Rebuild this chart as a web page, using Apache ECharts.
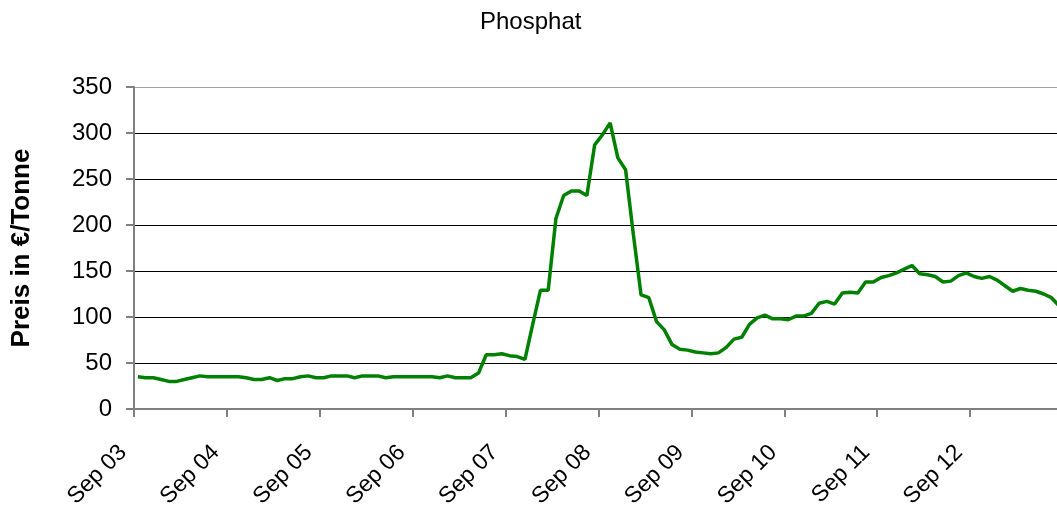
<!DOCTYPE html>
<html>
<head>
<meta charset="utf-8">
<script src="https://cdn.jsdelivr.net/npm/echarts@6/dist/echarts.min.js"></script>
<style>
html,body{margin:0;padding:0;background:#fff;}
#c{width:1057px;height:508px;}
</style>
</head>
<body>
<div id="c"></div>
<script>
// Monthly categories Sep 03 .. Aug 13
const MONTHS = ['Sep','Okt','Nov','Dez','Jan','Feb','Mrz','Apr','Mai','Jun','Jul','Aug'];
const START_YEARS = ['03','04','05','06','07','08','09','10','11','12'];
const NEXT_YEARS  = ['04','05','06','07','08','09','10','11','12','13'];
const categories = [];
START_YEARS.forEach((y, k) => {
  MONTHS.forEach((m, j) => {
    categories.push(m + ' ' + (j < 4 ? y : NEXT_YEARS[k]));
  });
});

const chartTitle = 'Phosphat';
const yAxisTitle = 'Preis in €/Tonne';
const yTicks = [0, 50, 100, 150, 200, 250, 300, 350];

// Price in EUR per tonne
const prices = [
  35,34,34,32,30,30,32,34,36,35,35,35,
  35,35,34,32,32,34,31,33,33,35,36,34,
  34,36,36,36,34,36,36,36,34,35,35,35,
  35,35,35,34,36,34,34,34,39,59,59,60,
  58,57,54,92,129,129,207,232,237,237,232,287,
  298,311,273,260,190,124,121,95,86,70,65,64,
  62,61,60,61,67,76,78,92,99,102,98,98,
  97,101,101,104,115,117,114,126,127,126,138,138,
  143,145,148,152,156,147,146,144,138,139,145,148,
  144,142,144,140,134,128,131,129,128,125,121,112
];

const chart = echarts.init(document.getElementById('c'), null, {renderer: 'canvas'});
const FONT = 'Liberation Sans, Arial, sans-serif';
chart.setOption({
  animation: false,
  backgroundColor: '#ffffff',
  title: {
    text: chartTitle,
    left: 475,
    top: 5,
    textStyle: {fontFamily: FONT, fontSize: 24, fontWeight: 'normal', color: '#000'}
  },
  grid: {left: 134, top: 87, height: 322, width: 929, containLabel: false, outerBoundsMode: 'none'},
  xAxis: {
    type: 'category',
    data: categories,
    boundaryGap: true,
    axisLine: {show: true, lineStyle: {color: '#808080', width: 2}},
    axisTick: {show: true, interval: 11, length: 8, lineStyle: {color: '#808080', width: 2}},
    axisLabel: {
      interval: 11, rotate: 45, margin: 25, fontFamily: FONT, fontSize: 23, color: '#000',
      padding: [0, 21, 0, 0]
    },
    splitLine: {show: false}
  },
  yAxis: {
    type: 'value',
    min: yTicks[0],
    max: yTicks[yTicks.length - 1],
    interval: yTicks[1] - yTicks[0],
    name: yAxisTitle,
    nameLocation: 'middle',
    nameGap: 99,
    nameRotate: 90,
    nameTextStyle: {fontFamily: FONT, fontSize: 26, fontWeight: 'bold', color: '#000'},
    axisLine: {show: true, lineStyle: {color: '#808080', width: 2}},
    axisTick: {show: true, length: 8, lineStyle: {color: '#808080', width: 2}},
    axisLabel: {margin: 22, fontFamily: FONT, fontSize: 24, color: '#000'},
    splitLine: {show: true, lineStyle: {color: ['#000','#000','#000','#000','#000','#000','#000','#a0a0a0'], width: 1}}
  },
  series: [{
    type: 'line',
    data: prices,
    showSymbol: false,
    symbol: 'none',
    lineStyle: {color: '#008000', width: 3.5},
    itemStyle: {color: '#008000'}
  }]
});
</script>
</body>
</html>
